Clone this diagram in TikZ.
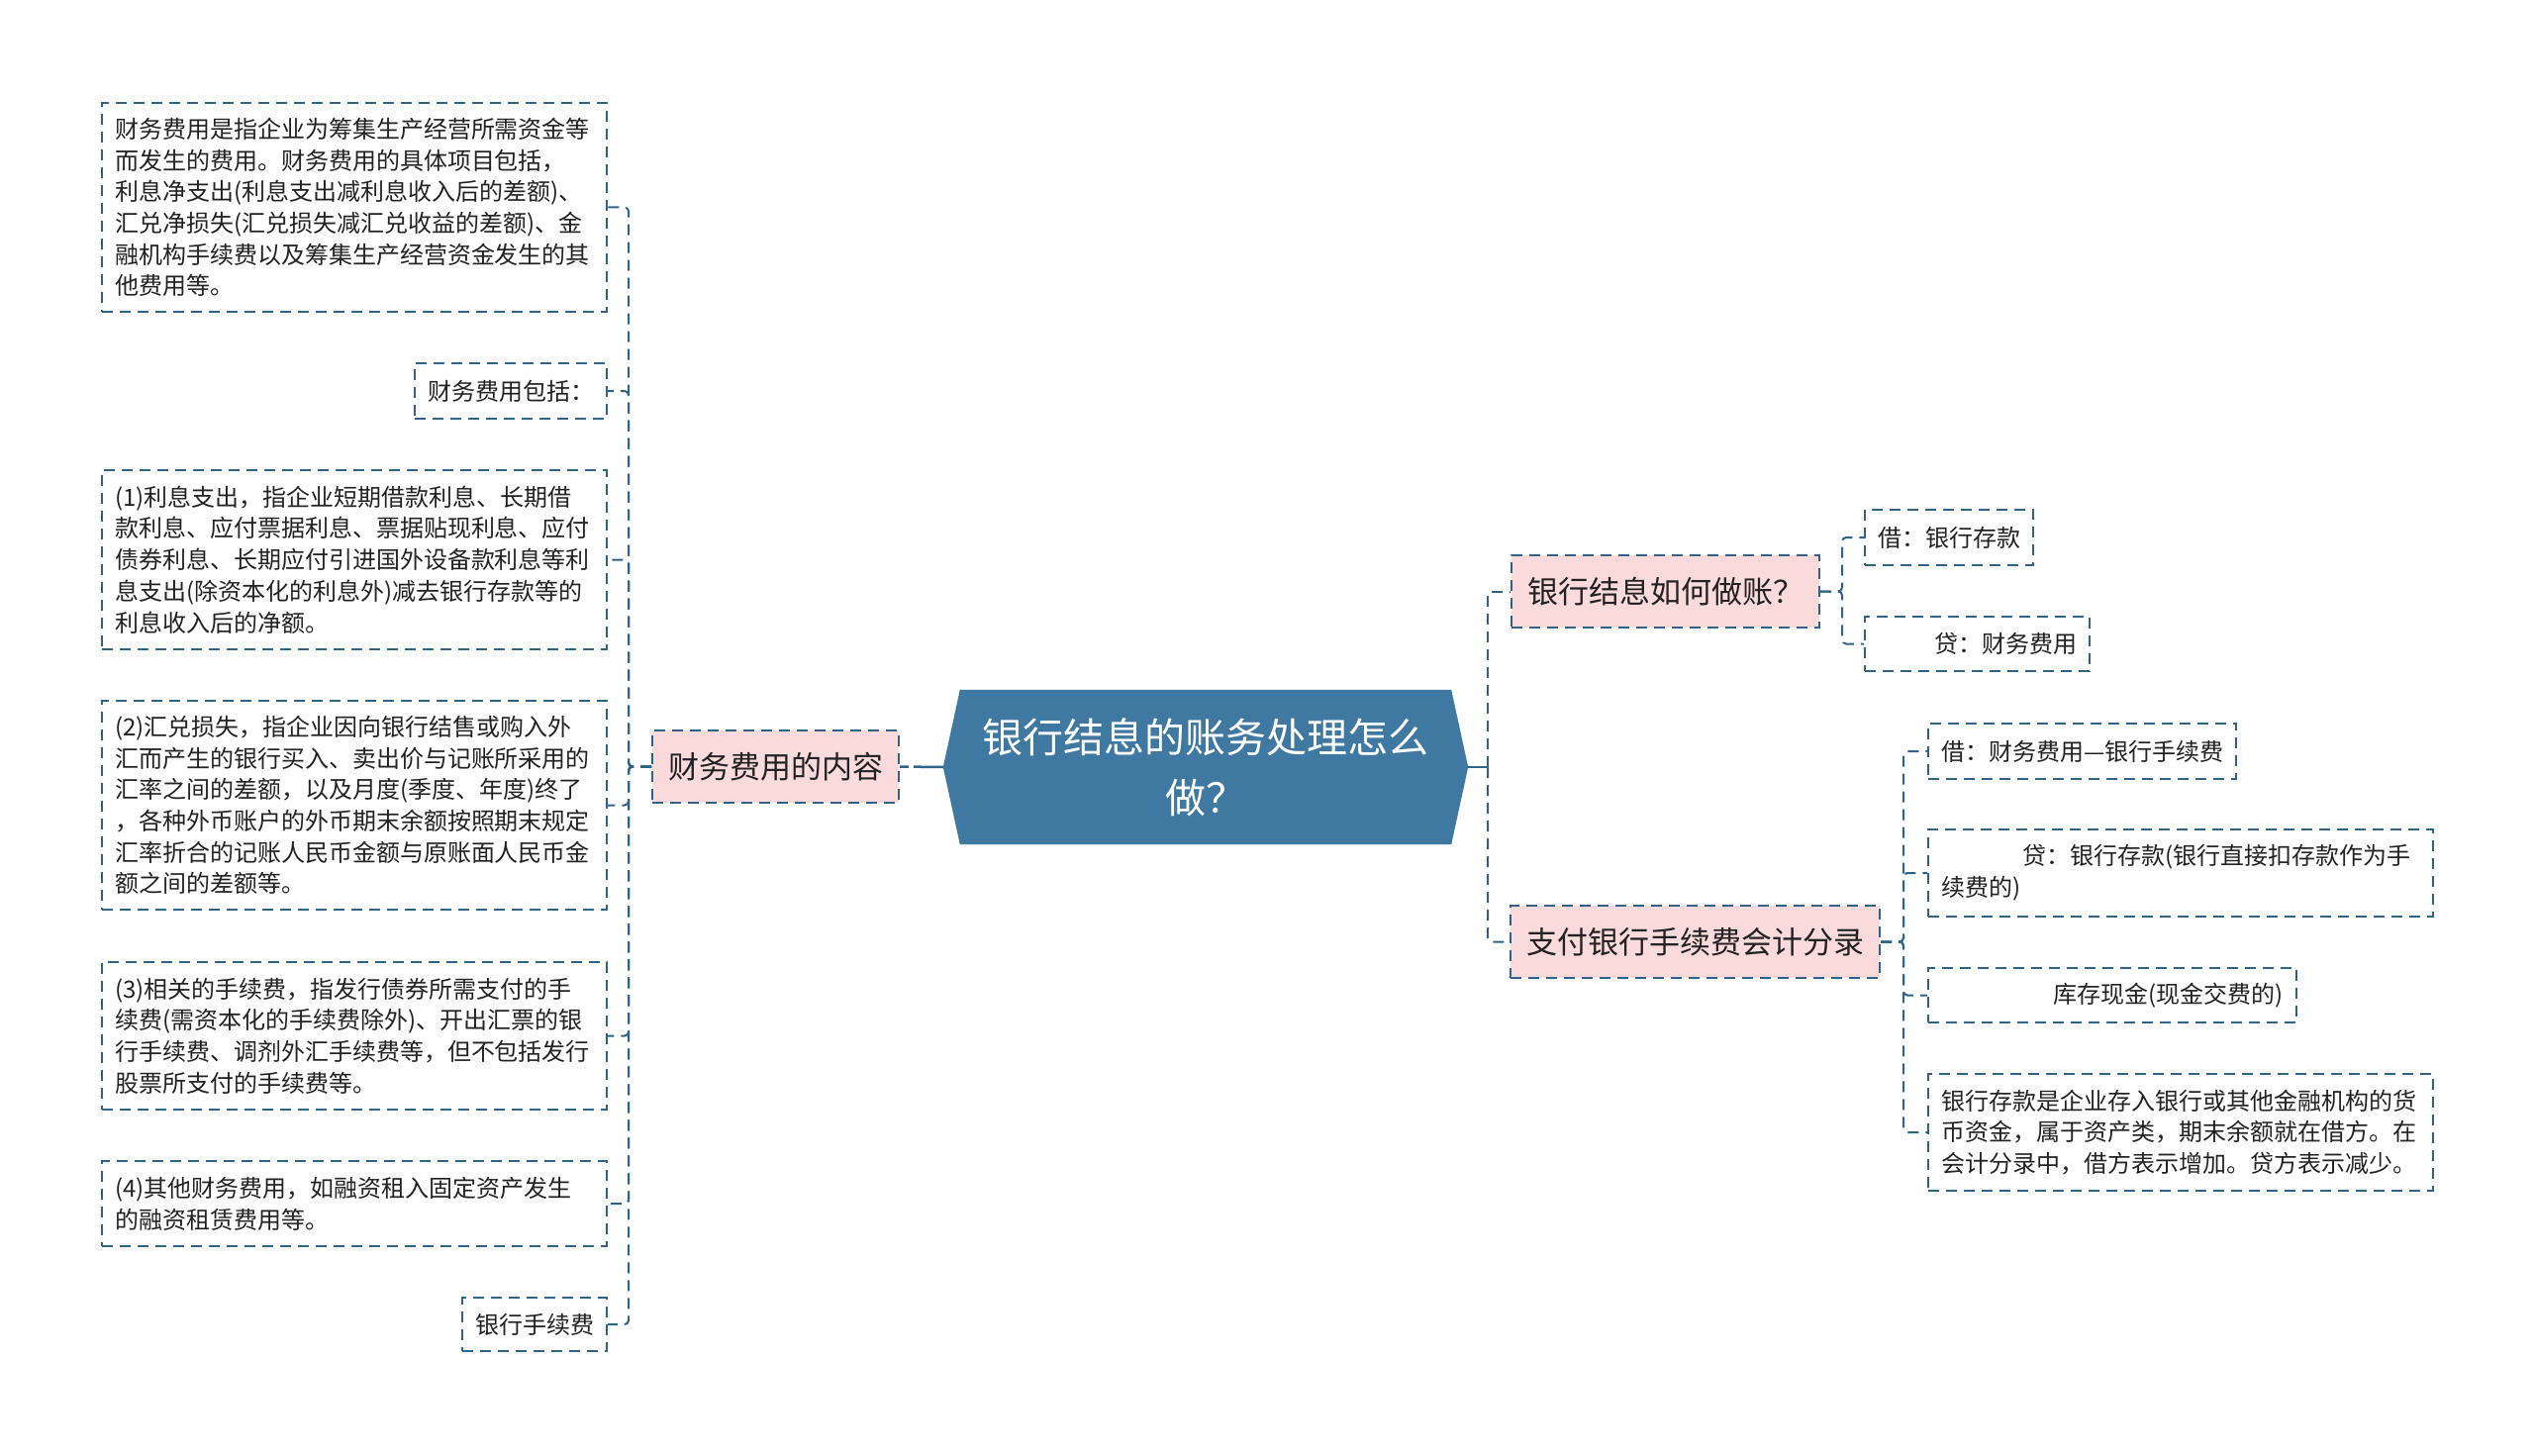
\documentclass[tikz,border=0pt]{standalone}
\usepackage{fontspec}
\setmainfont{Noto Sans CJK SC}
\usetikzlibrary{backgrounds}
\definecolor{linkblue}{HTML}{2F6388}
\definecolor{rootblue}{HTML}{3F79A1}
\definecolor{topicpink}{HTML}{FADADB}
\definecolor{inkgray}{HTML}{222222}
\tikzset{%
   link/.style={draw=linkblue, line width=2pt, dash pattern=on 11pt off 7pt, rounded corners=4pt},
   rootlink/.style={draw=linkblue, line width=2.5pt, dash pattern=on 30pt off 5pt},
   leaf/.style={draw=linkblue, line width=2pt, dash pattern=on 11pt off 7pt, inner xsep=13pt,
      inner ysep=6pt, align=left, text=inkgray, font=\fontsize{24}{31.7}\selectfont},
   topic/.style={leaf, fill=topicpink, inner xsep=16pt, minimum height=73pt,
      font=\fontsize{31}{38}\selectfont},
   roottext/.style={minimum width=496pt, minimum height=156pt, align=center, text=white,
      font=\fontsize{41}{61}\selectfont},
}

\begin{document}
\begin{tikzpicture}[x=1pt, y=-1pt]
      \useasboundingbox (0,0) rectangle (2560,1471);
      \node[roottext] (root) at (1218,775) {银行结息的账务处理怎么\\做？};
      \begin{scope}[on background layer]
         \fill[rootblue] ([xshift=-17pt]root.west) -- (root.north west) -- (root.north east)
            -- ([xshift=17pt]root.east) -- (root.south east) -- (root.south west) -- cycle;
      \end{scope}
      \coordinate (rootL) at ([xshift=-17pt]root.west);
      \coordinate (rootR) at ([xshift=17pt]root.east);
      \coordinate (jR) at (1503,775);

      \node[topic, anchor=east] (nr) at (909,774.5) {财务费用的内容};
      \node[topic, anchor=west] (zj) at (1526,597.5) {银行结息如何做账？};
      \node[topic, anchor=west] (sx) at (1525,951.5) {支付银行手续费会计分录};

      \node[leaf, text width=484pt, minimum height=211pt, anchor=east] (fy0) at (614,209.5)
         {财务费用是指企业为筹集生产经营所需资金等\\而发生的费用。财务费用的具体项目包括，\\利息净支出(利息支出减利息收入后的差额)、\\汇兑净损失(汇兑损失减汇兑收益的差额)、金\\融机构手续费以及筹集生产经营资金发生的其\\他费用等。};
      \node[leaf, minimum height=56pt, anchor=east] (fy1) at (614,395) {财务费用包括：};
      \node[leaf, text width=484pt, minimum height=181pt, anchor=east] (fy2) at (614,565.5)
         {(1)利息支出，指企业短期借款利息、长期借\\款利息、应付票据利息、票据贴现利息、应付\\债券利息、长期应付引进国外设备款利息等利\\息支出(除资本化的利息外)减去银行存款等的\\利息收入后的净额。};
      \node[leaf, text width=484pt, minimum height=211pt, anchor=east] (fy3) at (614,813.5)
         {(2)汇兑损失，指企业因向银行结售或购入外\\汇而产生的银行买入、卖出价与记账所采用的\\汇率之间的差额，以及月度(季度、年度)终了\\，各种外币账户的外币期末余额按照期末规定\\汇率折合的记账人民币金额与原账面人民币金\\额之间的差额等。};
      \node[leaf, text width=484pt, minimum height=149pt, anchor=east] (fy4) at (614,1046.5)
         {(3)相关的手续费，指发行债券所需支付的手\\续费(需资本化的手续费除外)、开出汇票的银\\行手续费、调剂外汇手续费等，但不包括发行\\股票所支付的手续费等。};
      \node[leaf, text width=484pt, minimum height=86pt, anchor=east] (fy5) at (614,1216)
         {(4)其他财务费用，如融资租入固定资产发生\\的融资租赁费用等。};
      \node[leaf, minimum height=54pt, anchor=east] (fy6) at (614,1338) {银行手续费};

      \node[leaf, minimum height=56pt, anchor=west] (jie1) at (1883,543) {借：银行存款};
      \node[leaf, text width=201pt, align=right, minimum height=55pt, anchor=west] (dai1) at (1883,650.5) {贷：财务费用};

      \node[leaf, minimum height=56pt, anchor=west] (jie2) at (1947,759) {借：财务费用—银行手续费};
      \node[leaf, text width=484pt, minimum height=88pt, anchor=west] (dai2) at (1947,882)
         {\hspace*{82pt}贷：银行存款(银行直接扣存款作为手\\续费的)};
      \node[leaf, text width=346pt, align=right, minimum height=55pt, anchor=west] (xj) at (1947,1005.5) {库存现金(现金交费的)};
      \node[leaf, text width=484pt, minimum height=118pt, anchor=west] (ck) at (1947,1144)
         {银行存款是企业存入银行或其他金融机构的货\\币资金，属于资产类，期末余额就在借方。在\\会计分录中，借方表示增加。贷方表示减少。};

      \draw[rootlink] (rootL) -- (nr.east);
      \draw[rootlink] (rootR) -- (jR);
      \draw[link] (jR) |- (zj.west);
      \draw[link] (jR) |- (sx.west);
      \foreach \k in {fy0,fy1,fy2,fy3,fy4,fy5,fy6}
         \draw[link] (nr.west) -- ++(-23,0) |- (\k.east);
      \foreach \k in {jie1,dai1}
         \draw[link] (zj.east) -- ++(22,0) |- (\k.west);
      \foreach \k in {jie2,dai2,xj,ck}
         \draw[link] (sx.east) -- ++(23,0) |- (\k.west);
   \end{tikzpicture}
\end{document}
